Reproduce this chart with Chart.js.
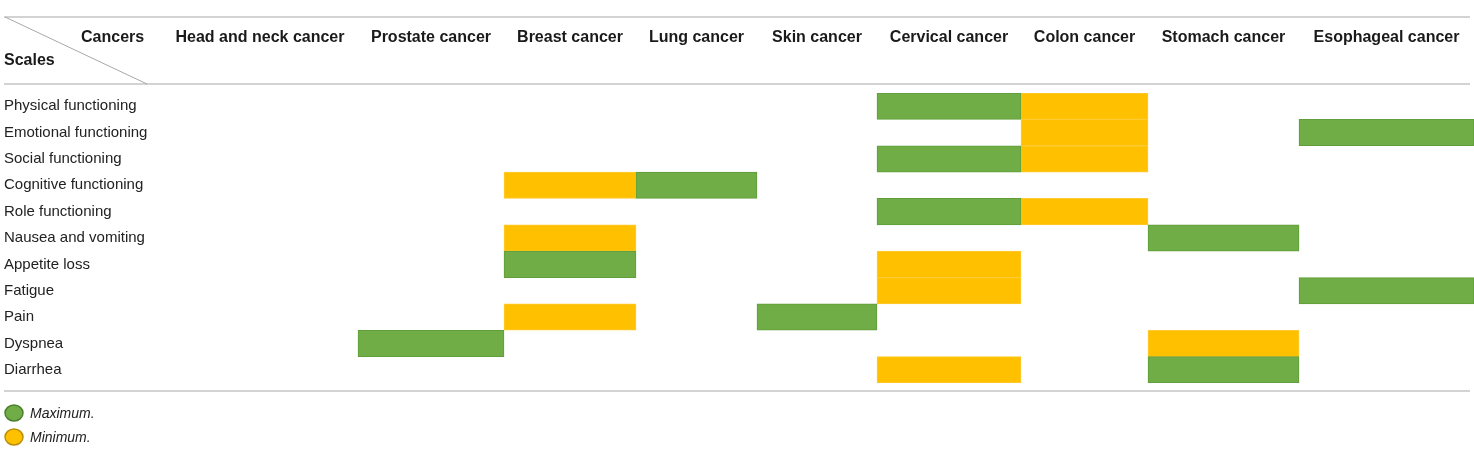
<!DOCTYPE html>
<html>
<head>
<meta charset="utf-8">
<script src="https://cdn.jsdelivr.net/npm/chart.js@4"></script>
<style>
  html, body { margin: 0; padding: 0; background: #fff; }
  #wrap { width: 1474px; height: 450px; position: relative; }
</style>
</head>
<body>
<div id="wrap"><canvas id="c"></canvas></div>
<script>
// ---- Data ----
const cancers = ["Head and neck cancer", "Prostate cancer", "Breast cancer", "Lung cancer", "Skin cancer",
                 "Cervical cancer", "Colon cancer", "Stomach cancer", "Esophageal cancer"];
const scales = ["Physical functioning", "Emotional functioning", "Social functioning", "Cognitive functioning",
                "Role functioning", "Nausea and vomiting", "Appetite loss", "Fatigue", "Pain", "Dyspnea", "Diarrhea"];
// cancer with the maximum score for each scale (same order as scales)
const maxCancer = ["Cervical cancer", "Esophageal cancer", "Cervical cancer", "Lung cancer", "Cervical cancer",
                   "Stomach cancer", "Breast cancer", "Esophageal cancer", "Skin cancer", "Prostate cancer", "Stomach cancer"];
// cancer with the minimum score for each scale
const minCancer = ["Colon cancer", "Colon cancer", "Colon cancer", "Breast cancer", "Colon cancer",
                   "Breast cancer", "Cervical cancer", "Cervical cancer", "Breast cancer", "Stomach cancer", "Cervical cancer"];
const legendLabels = ["Maximum.", "Minimum."];

// ---- Layout (column edges in x-scale units, not data) ----
const colEdges = [15, 211, 357, 489, 610, 730, 874, 1001, 1152, 1327];

const GREEN = "#70AD47", GREEN_B = "#5F9E38";
const GOLD = "#FFC000", GOLD_B = "#FFCB33";

function cells(list) {
  return scales.map((s, i) => {
    const k = cancers.indexOf(list[i]);
    return { y: s, x: [colEdges[k], colEdges[k + 1]] };
  });
}

const tablePlugin = {
  id: "tablePlugin",
  afterDraw(chart) {
    const ctx = chart.ctx;
    const xs = chart.scales.x;
    ctx.save();
    // horizontal rules
    ctx.strokeStyle = "#c4c4c4";
    ctx.lineWidth = 1.5;
    [17, 84, 391].forEach(y => {
      ctx.beginPath(); ctx.moveTo(4, y); ctx.lineTo(1470, y); ctx.stroke();
    });
    // diagonal in corner
    ctx.lineWidth = 1;
    ctx.strokeStyle = "#a8a8a8";
    ctx.beginPath(); ctx.moveTo(5, 17); ctx.lineTo(147, 84); ctx.stroke();
    // header texts
    ctx.fillStyle = "#1a1a1a";
    ctx.font = "bold 16px 'Liberation Sans', Arial, sans-serif";
    ctx.textBaseline = "middle";
    ctx.textAlign = "left";
    ctx.fillText("Cancers", 81, 38);
    ctx.fillText("Scales", 4, 61);
    ctx.textAlign = "center";
    cancers.forEach((c, i) => {
      const cx = (xs.getPixelForValue(colEdges[i]) + xs.getPixelForValue(colEdges[i + 1])) / 2;
      ctx.fillText(c, cx, 38);
    });
    // legend
    const items = [[GREEN, "#4E7F2E", 413], [GOLD, "#B8900A", 437]];
    ctx.font = "italic 14px 'Liberation Sans', Arial, sans-serif";
    ctx.textAlign = "left";
    items.forEach((it, i) => {
      ctx.beginPath();
      ctx.ellipse(14, it[2], 9, 8, 0, 0, Math.PI * 2);
      ctx.fillStyle = it[0]; ctx.fill();
      ctx.lineWidth = 1.5; ctx.strokeStyle = it[1]; ctx.stroke();
      ctx.fillStyle = "#222";
      ctx.fillText(legendLabels[i], 30, it[2] + 1);
    });
    ctx.restore();
  }
};

new Chart(document.getElementById("c"), {
  type: "bar",
  data: {
    labels: scales,
    datasets: [
      { label: legendLabels[0], data: cells(maxCancer), backgroundColor: GREEN, borderColor: GREEN_B, borderWidth: 1 },
      { label: legendLabels[1], data: cells(minCancer), backgroundColor: GOLD, borderColor: GOLD_B, borderWidth: 1 }
    ]
  },
  options: {
    indexAxis: "y",
    responsive: true,
    maintainAspectRatio: false,
    animation: false,
    layout: { padding: { top: 93, bottom: 67, left: 4, right: 0 } },
    datasets: { bar: { grouped: false, barPercentage: 1, categoryPercentage: 1, borderSkipped: false } },
    plugins: { legend: { display: false }, tooltip: { enabled: false } },
    scales: {
      x: { type: "linear", min: 0, max: 1327, display: false },
      y: {
        type: "category",
        offset: true,
        grid: { display: false },
        border: { display: false },
        afterFit(scale) { scale.width = 143; },
        ticks: {
          crossAlign: "far",
          padding: 0,
          color: "#222",
          font: { family: "'Liberation Sans', Arial, sans-serif", size: 15 }
        }
      }
    }
  },
  plugins: [tablePlugin]
});
</script>
</body>
</html>
